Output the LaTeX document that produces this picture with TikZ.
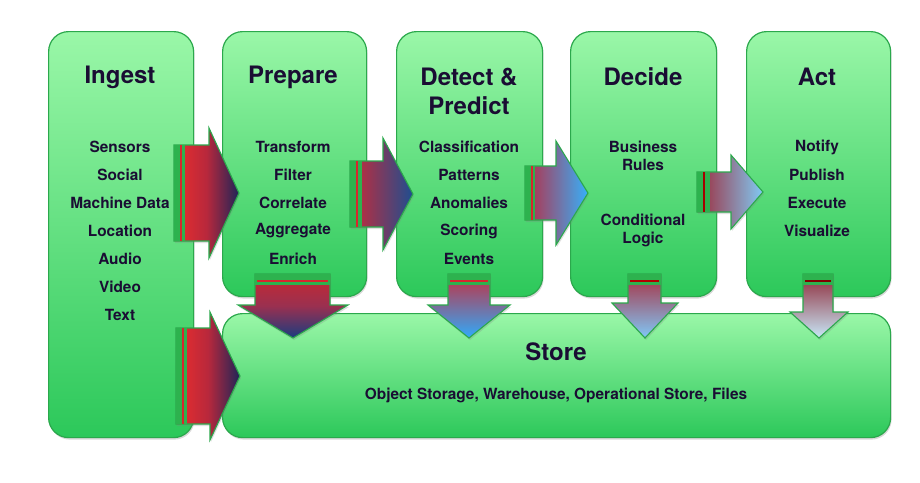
\documentclass[tikz,border=0pt]{standalone}
\usepackage{fontspec}
\setmainfont{TeX Gyre Heros}
\usetikzlibrary{shadows}
\definecolor{gtop}{HTML}{9AF7A8}
\definecolor{gbot}{HTML}{2CC85A}
\definecolor{boxline}{HTML}{2BA84C}
\definecolor{textc}{HTML}{1A0D33}
\definecolor{stripeg}{HTML}{2DB24E}
\definecolor{stripered}{HTML}{D8262E}
\definecolor{rOneL}{HTML}{EC2E2C}
\definecolor{rOneM}{HTML}{B8283C}
\definecolor{rOneR}{HTML}{1E2458}
\definecolor{rTwoL}{HTML}{CC2A36}
\definecolor{rTwoR}{HTML}{1E4E90}
\definecolor{rThreeL}{HTML}{B82C44}
\definecolor{rThreeR}{HTML}{36B0FA}
\definecolor{rFourL}{HTML}{9E2A3A}
\definecolor{rFourR}{HTML}{80CAF4}
\definecolor{dOneT}{HTML}{C82830}
\definecolor{dOneM}{HTML}{9A3050}
\definecolor{dOneB}{HTML}{1A3C80}
\definecolor{dTwoT}{HTML}{C43040}
\definecolor{dTwoB}{HTML}{30AAFA}
\definecolor{dThreeT}{HTML}{A83040}
\definecolor{dThreeB}{HTML}{80C8F8}
\definecolor{dFourT}{HTML}{8E2A38}
\definecolor{dFourB}{HTML}{C8E8F8}
\tikzset{
  box/.style={draw=boxline, line width=1.2pt, rounded corners=20pt, top color=gtop, bottom color=gbot,
    drop shadow={opacity=0.3, shadow xshift=1pt, shadow yshift=-2pt}},
  title/.style={font=\bfseries\fontsize{24}{28}\selectfont, text=textc, align=center},
  item/.style={font=\bfseries\fontsize{15.4}{18.5}\selectfont, text=textc, align=center},
  arrowline/.style={draw=boxline, line width=1.1pt, line join=miter,
    drop shadow={opacity=0.25, shadow xshift=1pt, shadow yshift=-2pt}},
  shOne/.style={left color=rOneL, right color=rOneR, middle color=rOneM},
  shTwo/.style={left color=rTwoL, right color=rTwoR},
  shThree/.style={left color=rThreeL, right color=rThreeR},
  shFour/.style={left color=rFourL, right color=rFourR},
  shDOne/.style={top color=dOneT, bottom color=dOneB, middle color=dOneM},
  shDTwo/.style={top color=dTwoT, bottom color=dTwoB},
  shDThree/.style={top color=dThreeT, bottom color=dThreeB},
  shDFour/.style={top color=dFourT, bottom color=dFourB},
}
% right arrow: x0, stripe end, xh, xt, yc, bh, hh, shading style, red line colour
\newcommand{\rarrowshape}[9]{%
  \draw[arrowline, #8]
    (#1,{#5-#6}) -- (#3,{#5-#6}) -- (#3,{#5-#7}) -- (#4,#5) -- (#3,{#5+#7}) -- (#3,{#5+#6}) -- (#1,{#5+#6}) -- cycle;
  \fill[stripeg] (#1,{#5-#6}) rectangle (#2,{#5+#6});
  \fill[#9] ({#1+5.5},{#5-#6}) rectangle ({#1+7.5},{#5+#6});
}
% down arrow: xl, xr, yh, hxl, hxr, tipx, stripe end, shading style, red line colour
\newcommand{\darrowshape}[9]{%
  \draw[arrowline, #8]
    (#1,274) -- (#2,274) -- (#2,#3) -- (#5,#3) -- (#6,338) -- (#4,#3) -- (#1,#3) -- cycle;
  \fill[stripeg] (#1,274) rectangle (#2,#7);
  \fill[#9] ({#1+2},279.5) rectangle ({#2-2},282);
}
\begin{document}
\begin{tikzpicture}[x=1pt,y=-1pt]
\useasboundingbox (0,0) rectangle (920,482);
% boxes
\node[box, anchor=north west, minimum width=145pt, minimum height=406pt] (ingest) at (48,31) {};
\node[box, anchor=north west, minimum width=144pt, minimum height=265pt] (prepare) at (222,31) {};
\node[box, anchor=north west, minimum width=146pt, minimum height=265pt] (detect) at (396,31) {};
\node[box, anchor=north west, minimum width=146pt, minimum height=265pt] (decide) at (570,31) {};
\node[box, anchor=north west, minimum width=144pt, minimum height=265pt] (act) at (746,31) {};
\node[box, anchor=north west, minimum width=668pt, minimum height=124pt] (store) at (222,313) {};

% titles
\node[title] (tingest) at (120,77) {Ingest};
\node[title] (tprepare) at (293,77) {Prepare};
\node[title, font=\bfseries\fontsize{24}{29}\selectfont] (tdetect) at (469,91.5) {Detect \&\\Predict};
\node[title] (tdecide) at (643,77) {Decide};
\node[title] (tact) at (817,77) {Act};
\node[title] (tstore) at (556,352) {Store};
\node[item] (sstore) at (556,395) {Object Storage, Warehouse, Operational Store, Files};

% ingest items
\node[item] (i1) at (120,147) {Sensors};
\node[item] (i2) at (120,175) {Social};
\node[item] (i3) at (120,203) {Machine Data};
\node[item] (i4) at (120,231) {Location};
\node[item] (i5) at (120,259) {Audio};
\node[item] (i6) at (120,287) {Video};
\node[item] (i7) at (120,315) {Text};
% prepare items
\node[item] (p1) at (293,147) {Transform};
\node[item] (p2) at (293,175) {Filter};
\node[item] (p3) at (293,203) {Correlate};
\node[item] (p4) at (293,231) {Aggregate};
\node[item] (p5) at (293,259) {Enrich};
% detect items
\node[item] (d1) at (469,147) {Classification};
\node[item] (d2) at (469,175) {Patterns};
\node[item] (d3) at (469,203) {Anomalies};
\node[item] (d4) at (469,231) {Scoring};
\node[item] (d5) at (469,259) {Events};
% decide items
\node[item] (c1) at (643,156) {Business\\Rules};
\node[item] (c2) at (643,230.5) {Conditional\\Logic};
% act items
\node[item] (a1) at (817,147) {Notify};
\node[item] (a2) at (817,175) {Publish};
\node[item] (a3) at (817,203) {Execute};
\node[item] (a4) at (817,231) {Visualize};

% right arrows
\rarrowshape{174}{185}{209}{239}{193}{48}{65}{shOne}{stripered}
\rarrowshape{350}{362}{383}{413}{194}{33}{56}{shTwo}{stripered}
\rarrowshape{525}{535}{556}{588}{193}{27}{52}{shThree}{stripered}
\rarrowshape{697}{710}{731}{763}{192}{20}{37}{shFour}{red!65!black}
\rarrowshape{176}{187}{210}{240}{376}{48}{64}{shOne}{stripered}

% down arrows
\darrowshape{255}{330}{305}{238}{348}{293}{285}{shDOne}{stripered}
\darrowshape{448}{490}{305}{428}{510}{469}{285}{shDTwo}{stripered}
\darrowshape{628}{661}{303}{612}{678}{645}{285}{shDThree}{red!70!black}
\darrowshape{803}{833}{312}{790}{848}{819}{285}{shDFour}{red!50!black}
\end{tikzpicture}
\end{document}
